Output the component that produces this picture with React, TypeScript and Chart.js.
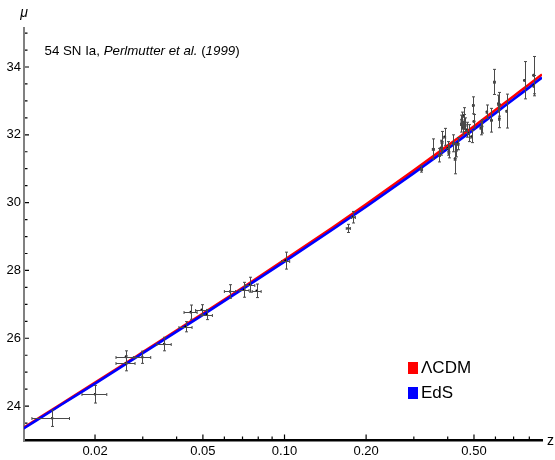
import React, { useEffect, useRef } from "react";
import { Chart, registerables } from "chart.js";

Chart.register(...registerables);

// Model curves
const modelZ = [0.0109, 0.015, 0.02, 0.03, 0.05, 0.07, 0.1, 0.15, 0.2, 0.3, 0.4, 0.5, 0.6, 0.7, 0.8, 0.891];
const lcdmMu = [23.36, 24.06, 24.69, 25.59, 26.73, 27.49, 28.31, 29.26, 29.95, 30.95, 31.68, 32.25, 32.73, 33.14, 33.49, 33.78];
const edsMu = [23.34, 24.04, 24.66, 25.56, 26.69, 27.45, 28.26, 29.2, 29.88, 30.87, 31.59, 32.16, 32.64, 33.05, 33.4, 33.69];

// Supernovae
const snZ = [
  0.0139, 0.02, 0.026, 0.026, 0.0299, 0.036, 0.0432, 0.0451, 0.0495, 0.0517,
  0.063, 0.071, 0.0747, 0.079, 0.101, 0.172, 0.1796,
  0.32, 0.354, 0.373, 0.378, 0.381, 0.39, 0.4, 0.404, 0.42, 0.426, 0.43, 0.437,
  0.449, 0.451, 0.455, 0.458, 0.46, 0.464, 0.47, 0.478, 0.49, 0.497, 0.5,
  0.53, 0.535, 0.558, 0.58, 0.595, 0.615, 0.62, 0.62, 0.66, 0.768, 0.83, 0.83,
];
const snMu = [
  23.64, 24.35, 25.45, 25.26, 25.44, 25.83, 26.34, 26.77, 26.84, 26.7,
  27.38, 27.43, 27.58, 27.4, 28.29, 29.24, 29.57,
  31.0, 31.58, 31.4, 31.62, 31.8, 31.94, 31.6, 31.5, 31.75, 31.3, 31.55, 31.74,
  32.33, 32.45, 32.2, 32.55, 32.38, 32.3, 32.15, 32.05, 31.95, 32.87, 32.4,
  32.2, 32.25, 32.68, 32.43, 33.56, 32.92, 32.48, 32.9, 32.7, 33.61, 33.76, 33.45,
];
const snMuErr = [
  0.24, 0.26, 0.18, 0.22, 0.18, 0.2, 0.15, 0.21, 0.15, 0.15,
  0.2, 0.22, 0.22, 0.2, 0.25, 0.12, 0.17,
  0.1, 0.3, 0.2, 0.22, 0.3, 0.25, 0.2, 0.18, 0.25, 0.45, 0.2, 0.18,
  0.25, 0.22, 0.2, 0.25, 0.22, 0.2, 0.22, 0.25, 0.18, 0.25, 0.2,
  0.2, 0.2, 0.2, 0.35, 0.37, 0.25, 0.27, 0.35, 0.5, 0.55, 0.55, 0.3,
];
const snZErr = [
  0.0022, 0.0021, 0.0021, 0.0021, 0.0022, 0.0022, 0.0024, 0.0025, 0.0025, 0.0025,
  0.003, 0.003, 0.003, 0.003, 0.0035, 0.003, 0.003,
  0.003, 0.003, 0.003, 0.003, 0.003, 0.003, 0.003, 0.003, 0.003, 0.003, 0.003, 0.003,
  0.003, 0.003, 0.003, 0.003, 0.003, 0.003, 0.003, 0.003, 0.003, 0.003, 0.003,
  0.003, 0.003, 0.003, 0.003, 0.003, 0.003, 0.003, 0.003, 0.003, 0.003, 0.003, 0.003,
];

// Axes
const xLabelTicks = [0.02, 0.05, 0.1, 0.2, 0.5];
const xMinorTicks = [0.03, 0.04, 0.06, 0.07, 0.08, 0.09, 0.3, 0.4, 0.6, 0.7, 0.8];
const yLabelTicks = [24, 26, 28, 30, 32, 34];
const yMinorTicks = [23.5, 24.5, 25, 25.5, 26.5, 27, 27.5, 28.5, 29, 29.5, 30.5, 31, 31.5, 32.5, 33, 33.5, 34.5, 35];

const FONT = "'Liberation Sans', Arial, sans-serif";

const errorBarsPlugin = {
  id: "errorBars",
  afterDatasetsDraw(chart: any) {
    const { ctx } = chart;
    const x = chart.scales.x;
    const y = chart.scales.y;
    ctx.save();
    ctx.strokeStyle = "#4a4a4a";
    ctx.lineWidth = 1;
    const cap = 1.5;
    snZ.forEach((z, i) => {
      const px = Math.round(x.getPixelForValue(z)) + 0.5;
      const py = Math.round(y.getPixelForValue(snMu[i])) + 0.5;
      const yTop = y.getPixelForValue(snMu[i] + snMuErr[i]);
      const yBot = y.getPixelForValue(snMu[i] - snMuErr[i]);
      const xL = x.getPixelForValue(z - snZErr[i]);
      const xR = x.getPixelForValue(z + snZErr[i]);
      ctx.beginPath();
      ctx.moveTo(px, yTop);
      ctx.lineTo(px, yBot);
      ctx.moveTo(px - cap, yTop);
      ctx.lineTo(px + cap, yTop);
      ctx.moveTo(px - cap, yBot);
      ctx.lineTo(px + cap, yBot);
      ctx.moveTo(xL, py);
      ctx.lineTo(xR, py);
      ctx.moveTo(xL, py - cap);
      ctx.lineTo(xL, py + cap);
      ctx.moveTo(xR, py - cap);
      ctx.lineTo(xR, py + cap);
      ctx.stroke();
    });
    ctx.restore();
  },
};

const decorPlugin = {
  id: "decor",
  afterDraw(chart: any) {
    const { ctx, chartArea } = chart;
    const x = chart.scales.x;
    const y = chart.scales.y;
    ctx.save();
    // inward tick marks
    ctx.strokeStyle = "#000";
    ctx.lineWidth = 1.2;
    const b = chartArea.bottom - 1;
    ctx.beginPath();
    xLabelTicks.forEach((v) => {
      const px = x.getPixelForValue(v);
      ctx.moveTo(px, b);
      ctx.lineTo(px, b - 4.5);
    });
    xMinorTicks.forEach((v) => {
      const px = x.getPixelForValue(v);
      ctx.moveTo(px, b);
      ctx.lineTo(px, b - 2.5);
    });
    const l = chartArea.left + 1;
    yLabelTicks.forEach((v) => {
      const py = y.getPixelForValue(v);
      ctx.moveTo(l, py);
      ctx.lineTo(l + 4, py);
    });
    yMinorTicks.forEach((v) => {
      const py = y.getPixelForValue(v);
      ctx.moveTo(l, py);
      ctx.lineTo(l + 2.5, py);
    });
    ctx.stroke();

    ctx.fillStyle = "#000";
    // axis names
    ctx.font = `italic 14px ${FONT}`;
    ctx.textAlign = "center";
    ctx.textBaseline = "alphabetic";
    ctx.fillText("\u03bc", chartArea.left, 17);
    ctx.font = `14px ${FONT}`;
    ctx.textAlign = "left";
    ctx.fillText("z", chartArea.right + 5, 445);

    // annotation
    const parts: [string, boolean][] = [
      ["54 SN Ia, ", false],
      ["Perlmutter et al.", true],
      [" (", false],
      ["1999", true],
      [")", false],
    ];
    let tx = 44.5;
    parts.forEach(([t, it]) => {
      ctx.font = `${it ? "italic " : ""}13.3px ${FONT}`;
      ctx.fillText(t, tx, 55);
      tx += ctx.measureText(t).width;
    });

    // legend
    const items = [chart.data.datasets[2], chart.data.datasets[1]];
    ctx.font = `17px ${FONT}`;
    ctx.textBaseline = "middle";
    items.forEach((ds: any, i: number) => {
      const cy = 368 + i * 25;
      ctx.fillStyle = ds.borderColor;
      ctx.fillRect(408, cy - 6, 10, 12);
      ctx.fillStyle = "#000";
      ctx.fillText(ds.label, 421, cy);
    });
    ctx.restore();
  },
};

export default function App() {
  const canvasRef = useRef<HTMLCanvasElement | null>(null);

  useEffect(() => {
    if (!canvasRef.current) return;
    const chart = new Chart(canvasRef.current, {
      type: "scatter",
      data: {
        datasets: [
          {
            label: "SN Ia",
            data: snZ.map((z, i) => ({ x: z, y: snMu[i] })),
            pointRadius: 1.3,
            pointBackgroundColor: "#000",
            pointBorderWidth: 0,
          },
          {
            type: "line",
            label: "EdS",
            data: modelZ.map((z, i) => ({ x: z, y: edsMu[i] })),
            borderColor: "#0000ff",
            borderWidth: 2.6,
            pointRadius: 0,
            cubicInterpolationMode: "monotone",
            fill: false,
          },
          {
            type: "line",
            label: "\u039bCDM",
            data: modelZ.map((z, i) => ({ x: z, y: lcdmMu[i] })),
            borderColor: "#ff0000",
            borderWidth: 2.6,
            pointRadius: 0,
            cubicInterpolationMode: "monotone",
            fill: false,
          },
        ] as any,
      },
      options: {
        animation: false,
        responsive: false,
        devicePixelRatio: 1,
        layout: { padding: { top: 28, right: 13, left: 0, bottom: 0 } },
        plugins: { legend: { display: false }, tooltip: { enabled: false } },
        scales: {
          x: {
            type: "logarithmic",
            min: 0.01094,
            max: 0.891,
            grid: { display: false, drawTicks: false },
            border: { display: true, color: "#000", width: 2.6 },
            afterBuildTicks: (s: any) => {
              s.ticks = xLabelTicks.map((v) => ({ value: v }));
            },
            afterFit: (s: any) => {
              s.height = 20;
            },
            ticks: {
              autoSkip: false,
              maxRotation: 0,
              padding: 4,
              color: "#000",
              font: { family: FONT, size: 13 },
              callback: (v: any) => Number(v).toFixed(2),
            },
          },
          y: {
            min: 23,
            max: 35.15,
            grid: { display: false, drawTicks: false },
            border: { display: true, color: "#808080", width: 2 },
            afterBuildTicks: (s: any) => {
              s.ticks = yLabelTicks.map((v) => ({ value: v }));
            },
            afterFit: (s: any) => {
              s.width = 24;
            },
            ticks: {
              padding: 3,
              color: "#000",
              font: { family: FONT, size: 13 },
              callback: (v: any) => String(v),
            },
          },
        },
      } as any,
      plugins: [errorBarsPlugin, decorPlugin],
    });
    return () => chart.destroy();
  }, []);

  return (
    <div style={{ position: "absolute", left: 0, top: 0, width: 555, height: 460, background: "#fff" }}>
      <canvas ref={canvasRef} width={555} height={460} />
    </div>
  );
}
